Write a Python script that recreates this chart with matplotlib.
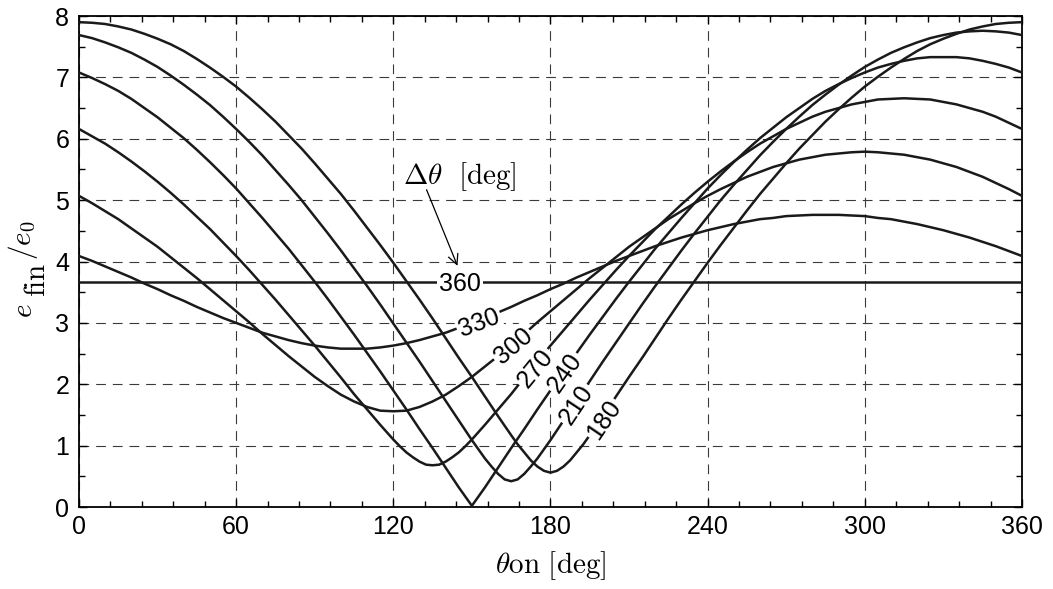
import numpy as np
import matplotlib.pyplot as plt
from matplotlib.ticker import MultipleLocator

plt.rcParams['font.family'] = ['Liberation Sans', 'DejaVu Sans']
plt.rcParams['mathtext.fontset'] = 'cm'
plt.rcParams['lines.scale_dashes'] = False

# thrust-on angle samples [deg]
theta_on = np.arange(0, 361, 5)

# e_fin / e_0, one list per thrust arc
e_180 = [7.90, 7.89, 7.87, 7.83, 7.78, 7.71, 7.63, 7.54, 7.43, 7.30, 7.16, 7.01,
         6.85, 6.67, 6.48, 6.28, 6.06, 5.84, 5.60, 5.35, 5.10, 4.83, 4.55, 4.27,
         3.98, 3.68, 3.38, 3.07, 2.75, 2.43, 2.12, 1.80, 1.48, 1.17, 0.89, 0.66,
         0.56, 0.66, 0.89, 1.17, 1.48, 1.80, 2.12, 2.43, 2.75, 3.07, 3.38, 3.68,
         3.98, 4.27, 4.55, 4.83, 5.10, 5.35, 5.60, 5.84, 6.06, 6.28, 6.48, 6.67,
         6.85, 7.01, 7.16, 7.30, 7.43, 7.54, 7.63, 7.71, 7.78, 7.83, 7.87, 7.89,
         7.90]
e_210 = [7.69, 7.64, 7.57, 7.49, 7.40, 7.29, 7.17, 7.03, 6.88, 6.72, 6.55, 6.36,
         6.16, 5.95, 5.73, 5.49, 5.25, 5.00, 4.73, 4.46, 4.18, 3.89, 3.60, 3.30,
         2.99, 2.68, 2.37, 2.05, 1.73, 1.41, 1.09, 0.79, 0.54, 0.42, 0.54, 0.79,
         1.09, 1.41, 1.73, 2.05, 2.37, 2.68, 2.99, 3.30, 3.60, 3.89, 4.18, 4.46,
         4.73, 5.00, 5.25, 5.49, 5.73, 5.95, 6.16, 6.36, 6.55, 6.72, 6.88, 7.03,
         7.17, 7.29, 7.40, 7.49, 7.57, 7.64, 7.69, 7.73, 7.75, 7.76, 7.75, 7.73,
         7.69]
e_240 = [7.08, 6.99, 6.89, 6.78, 6.65, 6.50, 6.35, 6.18, 6.01, 5.82, 5.62, 5.41,
         5.19, 4.95, 4.71, 4.46, 4.21, 3.94, 3.67, 3.39, 3.10, 2.81, 2.51, 2.21,
         1.90, 1.59, 1.27, 0.96, 0.64, 0.32, 0.02, 0.32, 0.64, 0.96, 1.27, 1.59,
         1.90, 2.21, 2.51, 2.81, 3.10, 3.39, 3.67, 3.94, 4.21, 4.46, 4.71, 4.95,
         5.19, 5.41, 5.62, 5.82, 6.01, 6.18, 6.35, 6.50, 6.65, 6.78, 6.89, 6.99,
         7.08, 7.16, 7.22, 7.27, 7.31, 7.33, 7.33, 7.33, 7.31, 7.27, 7.22, 7.16,
         7.08]
e_270 = [6.16, 6.04, 5.92, 5.78, 5.63, 5.47, 5.30, 5.12, 4.93, 4.73, 4.53, 4.31,
         4.09, 3.86, 3.62, 3.38, 3.13, 2.88, 2.63, 2.37, 2.11, 1.84, 1.59, 1.34,
         1.10, 0.89, 0.74, 0.68, 0.74, 0.89, 1.10, 1.34, 1.59, 1.84, 2.11, 2.37,
         2.63, 2.88, 3.13, 3.38, 3.62, 3.86, 4.09, 4.31, 4.53, 4.73, 4.93, 5.12,
         5.30, 5.47, 5.63, 5.78, 5.92, 6.04, 6.16, 6.26, 6.36, 6.44, 6.50, 6.56,
         6.60, 6.64, 6.65, 6.66, 6.65, 6.64, 6.60, 6.56, 6.50, 6.44, 6.36, 6.26,
         6.16]
e_300 = [5.07, 4.95, 4.82, 4.69, 4.54, 4.39, 4.24, 4.07, 3.90, 3.73, 3.55, 3.37,
         3.19, 3.01, 2.82, 2.64, 2.46, 2.29, 2.12, 1.97, 1.83, 1.72, 1.63, 1.57,
         1.56, 1.57, 1.63, 1.72, 1.83, 1.97, 2.12, 2.29, 2.46, 2.64, 2.82, 3.01,
         3.19, 3.37, 3.55, 3.73, 3.90, 4.07, 4.24, 4.39, 4.54, 4.69, 4.82, 4.95,
         5.07, 5.18, 5.28, 5.38, 5.46, 5.54, 5.60, 5.66, 5.70, 5.74, 5.76, 5.78,
         5.79, 5.78, 5.76, 5.74, 5.70, 5.66, 5.60, 5.54, 5.46, 5.38, 5.28, 5.18,
         5.07]
e_330 = [4.09, 4.01, 3.92, 3.83, 3.74, 3.64, 3.55, 3.45, 3.36, 3.26, 3.17, 3.08,
         3.00, 2.92, 2.84, 2.78, 2.72, 2.67, 2.63, 2.60, 2.58, 2.58, 2.58, 2.60,
         2.63, 2.67, 2.72, 2.78, 2.84, 2.92, 3.00, 3.08, 3.17, 3.26, 3.36, 3.45,
         3.55, 3.64, 3.74, 3.83, 3.92, 4.01, 4.09, 4.17, 4.25, 4.32, 4.39, 4.45,
         4.51, 4.56, 4.61, 4.65, 4.69, 4.71, 4.74, 4.75, 4.76, 4.76, 4.76, 4.75,
         4.74, 4.71, 4.69, 4.65, 4.61, 4.56, 4.51, 4.45, 4.39, 4.32, 4.25, 4.17,
         4.09]
theta_360 = [0, 360]
e_360 = [3.67, 3.67]

# extra readings around the rounded minima
theta_fine_180 = [167.5, 172.5, 177.5, 182.5, 187.5, 192.5]
e_fine_180 = [1.02, 0.76, 0.59, 0.59, 0.76, 1.02]
theta_fine_210 = [152.5, 157.5, 162.5, 167.5, 172.5, 177.5]
e_fine_210 = [0.94, 0.66, 0.45, 0.45, 0.66, 0.94]
theta_fine_270 = [122.5, 127.5, 132.5, 137.5, 142.5, 147.5]
e_fine_270 = [0.99, 0.81, 0.69, 0.69, 0.81, 0.99]

delta_theta = [180, 210, 240, 270, 300, 330, 360]
# where the inline label sits on each curve (theta_on)
label_x = [199.5, 189.3, 184.9, 173.4, 165.2, 152.4, 145.4]


def merged(x, y, xf=(), yf=()):
    x = np.concatenate([np.asarray(x, float), np.asarray(xf, float)])
    y = np.concatenate([np.asarray(y, float), np.asarray(yf, float)])
    o = np.argsort(x, kind='stable')
    return x[o], y[o]


curves = [merged(theta_on, e_180, theta_fine_180, e_fine_180),
          merged(theta_on, e_210, theta_fine_210, e_fine_210),
          merged(theta_on, e_240),
          merged(theta_on, e_270, theta_fine_270, e_fine_270),
          merged(theta_on, e_300),
          merged(theta_on, e_330),
          merged(theta_360, e_360)]

W, H = 1053, 589
fig = plt.figure(figsize=(W / 100, H / 100), dpi=100)
ax = fig.add_axes([0.075, 0.1392, 0.8955, 0.8336])
ax.set_xlim(0, 360)
ax.set_ylim(0, 8)

ax.xaxis.set_major_locator(MultipleLocator(60))
ax.xaxis.set_minor_locator(MultipleLocator(12))
ax.yaxis.set_major_locator(MultipleLocator(1))
ax.yaxis.set_minor_locator(MultipleLocator(0.5))
ax.tick_params(which='both', direction='in', top=True, right=True, width=1)
ax.tick_params(which='major', length=6, labelsize=18)
ax.tick_params(axis='x', which='major', pad=6)
ax.tick_params(axis='y', which='major', pad=7)
ax.tick_params(which='minor', length=4)
for s in ax.spines.values():
    s.set_linewidth(1.3)

ax.set_axisbelow(True)
ax.grid(True, which='major', color='#3a3a3a', lw=0.8, ls=(0, (7, 5)))

for (x, y), d, lx in zip(curves, delta_theta, label_x):
    ax.plot(x, y, color='#1a1a1a', lw=1.8, zorder=3, solid_joinstyle='round')
    ly = np.interp(lx, x, y)
    p0 = ax.transData.transform((lx - 3, np.interp(lx - 3, x, y)))
    p1 = ax.transData.transform((lx + 3, np.interp(lx + 3, x, y)))
    ang = np.degrees(np.arctan2(p1[1] - p0[1], p1[0] - p0[0]))
    ax.text(lx, ly, str(d), rotation=ang, rotation_mode='anchor',
            ha='center', va='center_baseline', fontsize=18, zorder=4,
            bbox=dict(boxstyle='square,pad=0.08', fc='white', ec='none'))

ax.text(123.7, 5.39, r'$\Delta\theta\ \ [\mathrm{deg}]$', fontsize=21,
        ha='left', va='center')
ax.annotate('', xy=(144.5, 3.93), xytext=(132.7, 5.17),
            arrowprops=dict(arrowstyle='->', color='k', lw=0.9,
                            mutation_scale=18, shrinkA=0, shrinkB=0))

ax.set_xlabel(r'$\theta\mathrm{on}\ [\mathrm{deg}]$', fontsize=21)
ax.xaxis.set_label_coords(0.5, -0.085)

# y label in pieces: "fin" sits full size, dropped below the e
ylab = dict(rotation=90, rotation_mode='anchor', ha='left', va='baseline',
            fontsize=21)
fig.text(31.7 / W, 1 - 318 / H, r'$e$', **ylab)
fig.text(45.0 / W, 1 - 297 / H, r'$\mathrm{fin}$', **ylab)
fig.text(30.5 / W, 1 - 260 / H, r'$/e_0$', **ylab)

fig.savefig('out.png', dpi=100, facecolor='white')
